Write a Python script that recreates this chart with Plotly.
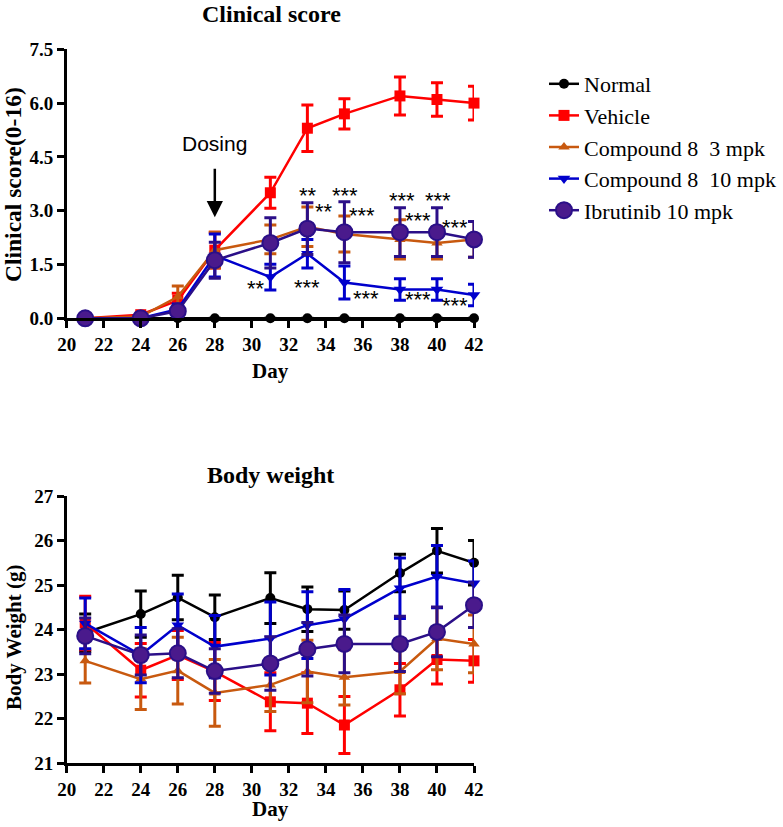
import plotly.graph_objects as go

W, H = 783, 827

days = [21, 24, 26, 28, 31, 33, 35, 38, 40, 42]
names = ["Normal", "Vehicle", "Compound 8\u00a0 3 mpk", "Compound 8\u00a0 10 mpk", "Ibrutinib 10 mpk"]

# Clinical score (mean, SEM)
normal_score = [0, 0, 0, 0, 0, 0, 0, 0, 0, 0]
normal_score_err = [0, 0, 0, 0, 0, 0, 0, 0, 0, 0]
vehicle_score = [0, 0.1, 0.5, 1.9, 3.5, 5.3, 5.7, 6.2, 6.1, 6.0]
vehicle_score_err = [0, 0.05, 0.2, 0.5, 0.43, 0.65, 0.42, 0.53, 0.47, 0.47]
c3_score = [0, 0.05, 0.6, 1.9, 2.2, 2.55, 2.35, 2.2, 2.1, 2.2]
c3_score_err = [0, 0.05, 0.3, 0.5, 0.4, 0.55, 0.5, 0.55, 0.45, 0.5]
c10_score = [0, 0, 0.25, 1.75, 1.15, 1.8, 1.0, 0.8, 0.8, 0.65]
c10_score_err = [0, 0, 0.15, 0.6, 0.36, 0.4, 0.46, 0.3, 0.3, 0.3]
ib_score = [0, 0, 0.2, 1.62, 2.1, 2.5, 2.4, 2.4, 2.4, 2.2]
ib_score_err = [0, 0, 0.15, 0.5, 0.7, 0.72, 0.85, 0.68, 0.68, 0.5]

# Body weight (mean, SEM)
normal_bw = [23.93, 24.35, 24.72, 24.28, 24.71, 24.46, 24.44, 25.27, 25.77, 25.5]
normal_bw_err = [0.42, 0.52, 0.5, 0.5, 0.57, 0.5, 0.43, 0.42, 0.5, 0.5]
vehicle_bw = [24.15, 23.09, 23.43, 23.06, 22.38, 22.35, 21.86, 22.65, 23.33, 23.3]
vehicle_bw_err = [0.6, 0.6, 0.55, 0.65, 0.65, 0.68, 0.64, 0.59, 0.55, 0.48]
c3_bw = [23.3, 22.89, 23.08, 22.58, 22.76, 23.06, 22.93, 23.06, 23.8, 23.68]
c3_bw_err = [0.5, 0.68, 0.75, 0.75, 0.6, 0.7, 0.62, 0.5, 0.7, 0.65]
c10_bw = [24.14, 23.43, 24.1, 23.62, 23.8, 24.1, 24.24, 24.93, 25.19, 25.04]
c10_bw_err = [0.57, 0.62, 0.7, 0.7, 0.82, 0.75, 0.66, 0.68, 0.7, 0.5]
ib_bw = [23.86, 23.43, 23.47, 23.07, 23.24, 23.56, 23.68, 23.68, 23.95, 24.55]
ib_bw_err = [0.4, 0.45, 0.55, 0.5, 0.6, 0.6, 0.65, 0.62, 0.56, 0.5]

# significance labels (day, score, text)
star_days = [30.2, 33.06, 33.9, 33.0, 35.04, 35.95, 36.15, 38.1, 39.0, 39.0, 40.03, 40.99, 40.99, 42.2, 43.06, 43.2]
star_vals = [0.98, 3.56, 3.12, 0.99, 3.56, 3.0, 0.69, 3.42, 2.87, 0.65, 3.42, 2.68, 0.51, 3.1, 2.5, 0.74]
star_text = ["**", "**", "**", "***", "***", "***", "***", "***", "***", "***", "***", "***", "***", "***", "***", "***"]

score_series = [(normal_score, normal_score_err), (vehicle_score, vehicle_score_err),
                (c3_score, c3_score_err), (c10_score, c10_score_err), (ib_score, ib_score_err)]
bw_series = [(normal_bw, normal_bw_err), (vehicle_bw, vehicle_bw_err), (c3_bw, c3_bw_err),
             (c10_bw, c10_bw_err), (ib_bw, ib_bw_err)]

colors = ["#000000", "#ff0000", "#c8590f", "#0000cc", "#2b0f88"]
fills = ["#000000", "#ff0000", "#c8590f", "#0000cc", "#4a1a8c"]
symbols = ["circle", "square", "triangle-up", "triangle-down", "circle"]
msizes = [10, 11, 10, 11, 16]

SERIF = "Liberation Serif, Times New Roman, serif"
SANS = "Liberation Sans, Arial, sans-serif"

fig = go.Figure()
for i in range(5):
    y, e = score_series[i]
    fig.add_trace(go.Scatter(
        x=days, y=y, name=names[i], mode="lines+markers", xaxis="x", yaxis="y",
        line=dict(color=colors[i], width=2.5),
        marker=dict(symbol=symbols[i], size=msizes[i], color=fills[i],
                    line=dict(color=colors[i], width=2 if i == 4 else 0)),
        error_y=dict(type="data", array=e, color=colors[i], thickness=3, width=6, visible=True),
        cliponaxis=False, legendgroup=str(i), showlegend=True))
for i in range(5):
    y, e = bw_series[i]
    fig.add_trace(go.Scatter(
        x=days, y=y, name=names[i], mode="lines+markers", xaxis="x2", yaxis="y2",
        line=dict(color=colors[i], width=2.5),
        marker=dict(symbol=symbols[i], size=msizes[i], color=fills[i],
                    line=dict(color=colors[i], width=2 if i == 4 else 0)),
        error_y=dict(type="data", array=e, color=colors[i], thickness=3, width=6, visible=True),
        cliponaxis=False, legendgroup=str(i), showlegend=False))

x0, x1 = 66.7 / W, 474 / W
top_dom = [1 - 318.3 / H, 1 - 49.3 / H]
bot_dom = [1 - 763.3 / H, 1 - 496 / H]

tickfont = dict(family=SERIF, size=19, color="black", weight="bold")
axis_common = dict(showline=True, linewidth=2.5, linecolor="black", ticks="outside",
                   ticklen=7, tickwidth=2.5, tickcolor="black", showgrid=False,
                   zeroline=False, tickfont=tickfont, automargin=False)

annotations = []
for d, v, t in zip(star_days, star_vals, star_text):
    annotations.append(dict(x=d, y=v, xref="x", yref="y", text=t, showarrow=False,
                            xanchor="center", yanchor="middle",
                            yshift=-5, font=dict(family=SANS, size=22, color="black")))

serif_b = lambda s: dict(family=SERIF, size=s, color="black", weight="bold")


def paper_text(px, py, text, font, angle=0):
    return dict(x=px / W, y=1 - py / H, xref="paper", yref="paper", text=text,
                showarrow=False, xanchor="center", yanchor="middle", textangle=angle, font=font)


annotations += [
    paper_text(271, 14, "Clinical score", serif_b(24)),
    paper_text(270, 475, "Body weight", serif_b(24)),
    paper_text(270, 371, "Day", serif_b(21)),
    paper_text(270, 809, "Day", serif_b(21)),
    paper_text(13, 185, "Clinical score(0-16)", serif_b(23.5), -90),
    paper_text(14, 638, "Body Weight (g)", serif_b(21), -90),
    dict(x=28, y=4.86, xref="x", yref="y", text="Dosing", showarrow=False,
         xanchor="center", yanchor="middle",
         font=dict(family=SANS, size=21, color="black")),
    dict(x=28, y=2.82, xref="x", yref="y", ax=28, ay=4.21, axref="x", ayref="y",
         text="", showarrow=True, arrowhead=2, arrowsize=1.3, arrowwidth=2.5, arrowcolor="black"),
]

fig.update_layout(
    width=W, height=H, margin=dict(l=0, r=0, t=0, b=0, autoexpand=False),
    plot_bgcolor="white", paper_bgcolor="white",
    xaxis=dict(domain=[x0, x1], anchor="y", range=[20, 42], dtick=2, tick0=20, **axis_common),
    yaxis=dict(domain=top_dom, anchor="x", range=[0, 7.5], dtick=1.5, tick0=0,
               tickformat=".1f", **axis_common),
    xaxis2=dict(domain=[x0, x1], anchor="y2", range=[20, 42], dtick=2, tick0=20, **axis_common),
    yaxis2=dict(domain=bot_dom, anchor="x2", range=[21, 27], dtick=1, tick0=21, **axis_common),
    legend=dict(x=544 / W, y=1 - 63 / H, xanchor="left", yanchor="top",
                font=dict(family=SERIF, size=22, color="black"),
                bgcolor="rgba(0,0,0,0)", tracegroupgap=0, itemwidth=30),
    annotations=annotations,
    showlegend=True,
)

fig.write_html("out.html", config={"displayModeBar": False},
               post_script="document.body.style.margin='0';document.body.style.padding='0';"
                           "document.body.style.overflow='hidden';")
